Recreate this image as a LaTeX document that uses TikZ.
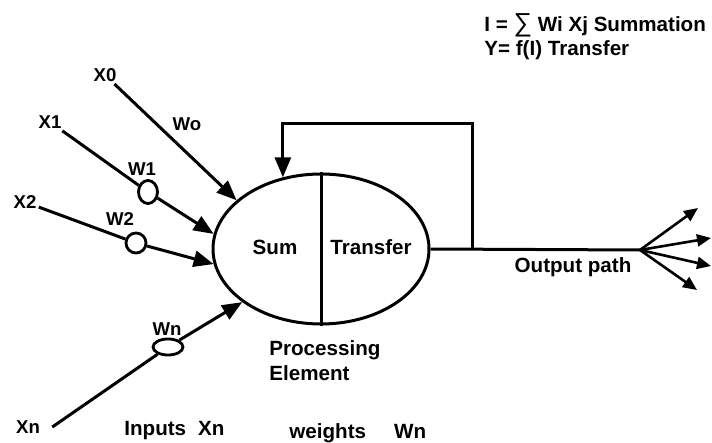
\documentclass[tikz,border=0pt]{standalone}
\usepackage{fontspec}
\setmainfont{Liberation Sans}
\usetikzlibrary{shapes.geometric,arrows.meta}
\tikzset{
  lbl/.style={font=\fontsize{10.3}{12.5}\selectfont\bfseries, inner sep=1pt},
  slbl/.style={font=\fontsize{9.3}{11}\selectfont\bfseries, inner sep=1pt},
  wire/.style={line width=1.5pt},
  arr/.style={wire, -{Triangle[length=10pt,width=8pt]}},
  farr/.style={line width=1.3pt, -{Triangle[length=7pt,width=6pt]}},
  wgt/.style={draw, ellipse, line width=1.4pt, inner sep=0pt},
}
\begin{document}
\begin{tikzpicture}[x=0.5pt,y=-0.5pt]
  \useasboundingbox[fill=white] (0,0) rectangle (712,443);
  \node[draw, ellipse, line width=1.5pt, minimum width=108pt, minimum height=75pt] (pe) at (321,249) {};
  \draw[wire] (pe.north) -- (pe.south);
  \node[lbl, anchor=base] (sum) at (275,255) {Sum};
  \node[lbl, anchor=base] (tr) at (371,255) {Transfer};
  \node[lbl, anchor=base west, align=left] (pelbl) at (267,380) {Processing\\Element};

  \node[slbl] (x0) at (105,75) {X0};
  \node[slbl] (x1) at (50,122) {X1};
  \node[slbl] (x2) at (25,202) {X2};
  \node[slbl] (xn) at (28,427) {Xn};
  \node[slbl] (l0) at (187,124) {Wo};
  \node[slbl] (l1) at (142,169) {W1};
  \node[slbl] (l2) at (120,219) {W2};
  \node[slbl] (ln) at (167,329) {Wn};

  \node[wgt, minimum width=9.5pt, minimum height=11.5pt] (w1) at (148,192) {};
  \node[wgt, minimum width=10pt, minimum height=10pt] (w2) at (136,243) {};
  \node[wgt, minimum width=15pt, minimum height=8pt] (wn) at (168,347) {};

  \draw[arr] (x0) -- (pe.150);
  \draw[wire] (x1) -- (w1);
  \draw[arr] (w1) -- (pe.172);
  \draw[wire] (x2) -- (w2);
  \draw[arr] (w2) -- (pe.188);
  \draw[wire] ([xshift=5pt]xn.east) -- (wn);
  \draw[arr] (wn) -- (pe.214);

  \coordinate (fb) at (472,249);
  \coordinate (fan) at (640,250);
  \coordinate (o1) at (698,208);
  \coordinate (o2) at (711,238);
  \coordinate (o3) at (711,266);
  \coordinate (o4) at (697,290);
  \draw[wire] (pe.east) -- (fan);
  \draw[arr] (fb) -- ++(0,-125) -| (pe.118);
  \foreach \i in {1,...,4}
    \draw[farr] (fan) -- (o\i);
  \node[lbl, anchor=base] (outp) at (573,272) {Output path};

  \node[lbl, anchor=base west] (sumeq) at (482,32) {I = {\fontsize{13}{13}\selectfont\mdseries ∑} Wi Xj Summation};
  \node[lbl, anchor=base west] (treq) at (482,56) {Y= f(I) Transfer};
  \node[lbl, anchor=base west] (inp) at (122,435) {Inputs\hspace{6pt}Xn};
  \node[lbl, anchor=base west] (wts) at (287,438) {weights\hspace{14pt}Wn};
\end{tikzpicture}
\end{document}
